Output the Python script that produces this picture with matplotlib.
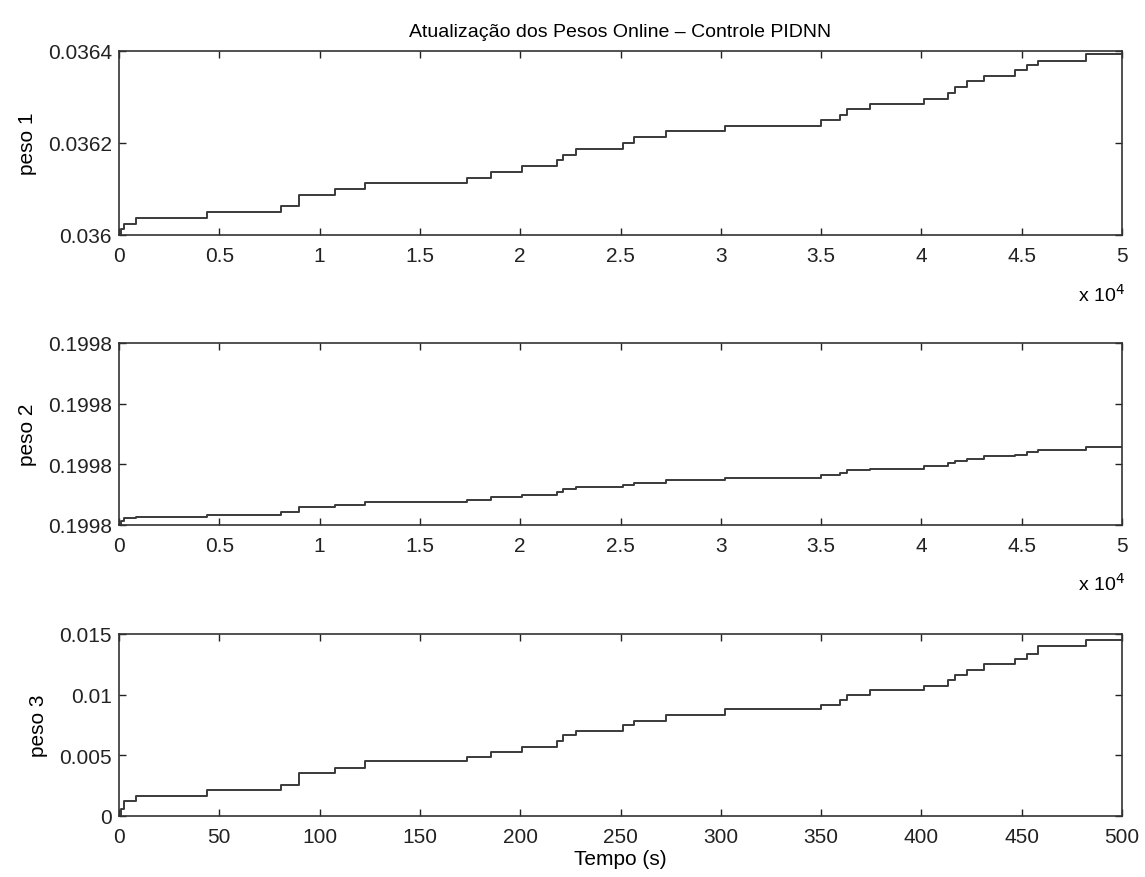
import matplotlib
matplotlib.use('Agg')
from matplotlib import pyplot as plt
from matplotlib.ticker import FormatStrFormatter, FuncFormatter

# Instantes das atualizações (s) - os três pesos mudam nos mesmos instantes
tempo = [0, 1, 2.5, 8.3, 43.9, 80.7, 89.5, 107.7, 122.6, 173.5, 185.6, 200.8,
         218.2, 221.2, 227.8, 251, 256.6, 272.5, 301.9, 350, 359.5, 363,
         374.2, 401.5, 413.1, 416.6, 422.7, 431.3, 446.5, 452.6, 458.1, 482.3, 500]

peso1 = [0.036, 0.036012, 0.036024, 0.0360367, 0.03605, 0.0360624, 0.0360866,
         0.0361006, 0.0361138, 0.0361248, 0.0361372, 0.036149, 0.0361629,
         0.0361747, 0.0361871, 0.0362, 0.0362128, 0.0362253, 0.036237,
         0.036251, 0.0362606, 0.036273, 0.0362848, 0.0362958, 0.0363097,
         0.0363207, 0.036334, 0.0363464, 0.0363582, 0.0363692, 0.036378,
         0.0363927, 0.0363927]

peso2 = [0.19978, 0.1997806, 0.1997811, 0.1997814, 0.1997817, 0.1997821,
         0.1997829, 0.1997833, 0.1997838, 0.1997842, 0.1997846, 0.199785,
         0.1997855, 0.1997859, 0.1997862, 0.1997866, 0.199787, 0.1997875,
         0.1997878, 0.1997882, 0.1997886, 0.199789, 0.1997893, 0.1997897,
         0.1997902, 0.1997906, 0.1997909, 0.1997913, 0.1997916, 0.199792,
         0.1997923, 0.1997928, 0.1997928]

peso3 = [0, 0.0006, 0.00125, 0.00167, 0.00217, 0.00258, 0.00353, 0.00394,
         0.0045, 0.00486, 0.00525, 0.00567, 0.00617, 0.00664, 0.007, 0.0075,
         0.00786, 0.00833, 0.00878, 0.00917, 0.00956, 0.00994, 0.01036,
         0.01075, 0.01122, 0.01161, 0.01206, 0.0125, 0.01292, 0.01333, 0.014,
         0.0145, 0.0145]

# amostras (passo de 0.01 s)
amostras = [t * 100 for t in tempo]

plt.rcParams['font.family'] = ['Liberation Sans', 'DejaVu Sans']
plt.rcParams['font.size'] = 15

fig = plt.figure(figsize=(11.45, 8.78), dpi=100)

left, width = 119 / 1145, 1003 / 1145
ax1 = fig.add_axes([left, 1 - 236 / 878, width, 184 / 878])
ax2 = fig.add_axes([left, 1 - 526 / 878, width, 182 / 878])
ax3 = fig.add_axes([left, 1 - 817 / 878, width, 182 / 878])

cor = '#3a3a3a'
ax1.step(amostras, peso1, where='post', color=cor, lw=1.4)
ax2.step(amostras, peso2, where='post', color=cor, lw=1.4)
ax3.step(tempo, peso3, where='post', color=cor, lw=1.4)

ax1.set_xlim(0, 50000)
ax1.set_ylim(0.036, 0.0364)
ax1.set_yticks([0.036, 0.0362, 0.0364])
ax1.yaxis.set_major_formatter(FuncFormatter(lambda v, p: ('%.4f' % v).rstrip('0')))

ax2.set_xlim(0, 50000)
ax2.set_ylim(0.19978, 0.19981)
ax2.set_yticks([0.19978, 0.19979, 0.1998, 0.19981])
ax2.yaxis.set_major_formatter(FormatStrFormatter('%.4f'))

xt = [i * 5000 for i in range(11)]
for ax in (ax1, ax2):
    ax.set_xticks(xt)
    ax.xaxis.set_major_formatter(FuncFormatter(lambda v, p: ('%g' % (v / 1e4))))
    ax.text(1.003, -0.32, r'x 10$^4$', transform=ax.transAxes, ha='right',
            va='center', fontsize=14)

ax3.set_xlim(0, 500)
ax3.set_ylim(0, 0.015)
ax3.set_xticks(range(0, 501, 50))
ax3.set_yticks([0, 0.005, 0.01, 0.015])
ax3.yaxis.set_major_formatter(FuncFormatter(lambda v, p: '%g' % v))
ax3.set_xlabel('Tempo (s)', labelpad=2)

for ax, nome in zip((ax1, ax2, ax3), ('peso 1', 'peso 2', 'peso 3')):
    ax.set_ylabel(nome, labelpad=8)
    ax.tick_params(direction='in', top=True, right=True, length=5,
                   width=1, colors='#222222', labelsize=15)
    ax.tick_params(axis='x', pad=8)
    ax.tick_params(axis='y', pad=5)
    for s in ax.spines.values():
        s.set_linewidth(1.2)
        s.set_color('#333333')

ax1.set_title('Atualização dos Pesos Online – Controle PIDNN', fontsize=14, pad=11)

fig.savefig('out.png', dpi=100)
